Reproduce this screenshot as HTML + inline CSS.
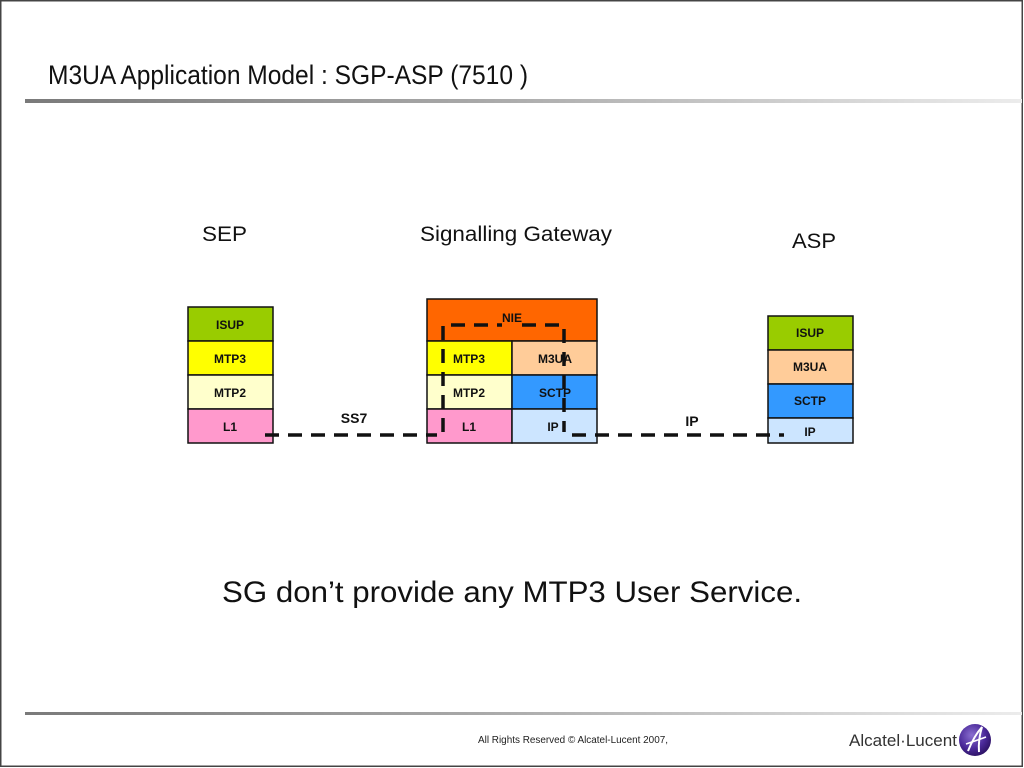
<!DOCTYPE html>
<html><head><meta charset="utf-8"><style>
html,body{margin:0;padding:0;background:#fff;width:1024px;height:768px;overflow:hidden}
svg{display:block}
</style></head><body>
<svg width="1024" height="768" viewBox="0 0 1024 768" xmlns="http://www.w3.org/2000/svg" font-family="Liberation Sans, Arial, sans-serif">
<defs>
<linearGradient id="g" x1="0" x2="1" y1="0" y2="0">
<stop offset="0" stop-color="#7a7a7a"/><stop offset="0.45" stop-color="#a8a8a8"/><stop offset="1" stop-color="#ececec"/>
</linearGradient>
<radialGradient id="lg" cx="0.4" cy="0.35" r="0.7">
<stop offset="0" stop-color="#8a6fd0"/><stop offset="0.6" stop-color="#4b2a9a"/><stop offset="1" stop-color="#2a1060"/>
</radialGradient>
</defs>
<rect x="0" y="0" width="1024" height="768" fill="#fff"/>
<!-- border -->
<rect x="0.75" y="0.75" width="1021.5" height="765.5" fill="none" stroke="#444" stroke-width="1.5"/>
<!-- title -->
<text x="48" y="84" font-size="27" fill="#111" textLength="480" lengthAdjust="spacingAndGlyphs">M3UA Application Model : SGP-ASP (7510 )</text>
<rect x="25" y="99" width="997" height="4" fill="url(#g)"/>

<!-- headings -->
<text x="202" y="241" font-size="21" fill="#111" textLength="45" lengthAdjust="spacingAndGlyphs">SEP</text>
<text x="420" y="241" font-size="21" fill="#111" textLength="192" lengthAdjust="spacingAndGlyphs">Signalling Gateway</text>
<text x="792" y="248" font-size="21" fill="#111" textLength="44" lengthAdjust="spacingAndGlyphs">ASP</text>

<g stroke="#111" stroke-width="1.5">
<!-- SEP stack -->
<rect x="188" y="307" width="85" height="34" fill="#99cc00"/>
<rect x="188" y="341" width="85" height="34" fill="#ffff00"/>
<rect x="188" y="375" width="85" height="34" fill="#ffffcc"/>
<rect x="188" y="409" width="85" height="34" fill="#ff99cc"/>
<!-- SG stack -->
<rect x="427" y="299" width="170" height="42" fill="#ff6600"/>
<rect x="427" y="341" width="85" height="34" fill="#ffff00"/>
<rect x="427" y="375" width="85" height="34" fill="#ffffcc"/>
<rect x="427" y="409" width="85" height="34" fill="#ff99cc"/>
<rect x="512" y="341" width="85" height="34" fill="#ffcc99"/>
<rect x="512" y="375" width="85" height="34" fill="#3399ff"/>
<rect x="512" y="409" width="85" height="34" fill="#cce5ff"/>
<!-- ASP stack -->
<rect x="768" y="316" width="85" height="34" fill="#99cc00"/>
<rect x="768" y="350" width="85" height="34" fill="#ffcc99"/>
<rect x="768" y="384" width="85" height="34" fill="#3399ff"/>
<rect x="768" y="418" width="85" height="25" fill="#cce5ff"/>
</g>

<g font-size="12" font-weight="bold" fill="#111" text-anchor="middle">
<text x="230" y="329">ISUP</text>
<text x="230" y="363">MTP3</text>
<text x="230" y="397">MTP2</text>
<text x="230" y="431">L1</text>
<text x="512" y="322">NIE</text>
<text x="469" y="363">MTP3</text>
<text x="469" y="397">MTP2</text>
<text x="469" y="431">L1</text>
<text x="555" y="363">M3UA</text>
<text x="555" y="397">SCTP</text>
<text x="553" y="431">IP</text>
<text x="810" y="337">ISUP</text>
<text x="810" y="371">M3UA</text>
<text x="810" y="405">SCTP</text>
<text x="810" y="436">IP</text>
<text x="354" y="423" font-size="14">SS7</text>
<text x="692" y="426" font-size="14">IP</text>
</g>

<!-- dashed links -->
<g stroke="#111" stroke-width="3.5" fill="none" stroke-dasharray="14,9">
<line x1="265" y1="435" x2="437" y2="435"/>
<line x1="572" y1="435" x2="784" y2="435"/>
<path d="M443 432 L443 325 L502 325" />
<path d="M522 325 L564 325 L564 432"/>
</g>

<!-- statement -->
<text x="222" y="602" font-size="30" fill="#111" textLength="580" lengthAdjust="spacingAndGlyphs">SG don’t provide any MTP3 User Service.</text>

<!-- footer -->
<rect x="25" y="712" width="997" height="3" fill="url(#g)"/>
<text x="478" y="743" font-size="10" fill="#222" textLength="190" lengthAdjust="spacingAndGlyphs">All Rights Reserved © Alcatel-Lucent 2007,</text>
<text x="849" y="746" font-size="17" fill="#333" textLength="108" lengthAdjust="spacingAndGlyphs">Alcatel·Lucent</text>
<circle cx="975" cy="740" r="16" fill="url(#lg)"/>
<path d="M968 751 Q974 736 982 727 Q978 740 979 752" stroke="#fff" stroke-width="2" fill="none"/>
<path d="M966 744 Q975 741 986 737" stroke="#fff" stroke-width="1.5" fill="none"/>
</svg>
</body></html>
